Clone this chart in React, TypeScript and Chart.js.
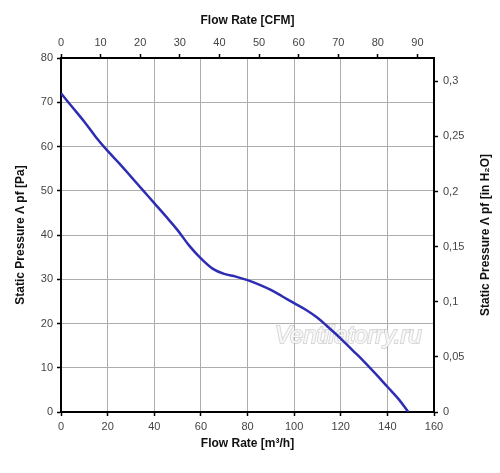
import React, { useEffect, useRef } from 'react';
import { Chart, registerables, Plugin } from 'chart.js';

Chart.register(...registerables);

// Flow rate in m3/h and static pressure in Pa
const flowRate = [0, 5, 10, 15, 20, 25, 30, 35, 40, 45, 50, 55, 60, 65, 70, 75, 80, 85, 90, 95, 100, 105, 110, 115, 120, 125, 130, 135, 140, 145, 149];
const pressure = [72, 68.8, 65.6, 62.1, 59, 56.2, 53.2, 50.2, 47.2, 44.2, 41.1, 37.6, 34.7, 32.4, 31.2, 30.6, 29.8, 28.8, 27.6, 26.1, 24.6, 23.1, 21.3, 19, 16.6, 14, 11.4, 8.6, 5.7, 2.8, 0];

const M3H_PER_CFM = 1.699;
const INH2O_PER_PA = 0.0040146;
const FLOW_MAX = 160;
const PRESSURE_MAX = 80;

const tickFont = { family: '"Liberation Sans", Arial, sans-serif', size: 11 };
const titleFont = { family: '"Liberation Sans", Arial, sans-serif', size: 12, weight: 'bold' as const };

const commaNumber = (v: number) => String(+Number(v).toFixed(2)).replace('.', ',');

// right axis title reads bottom-to-top, and the watermark
const extrasPlugin: Plugin = {
  id: 'extras',
  beforeDatasetsDraw(chart) {
    const ctx = chart.ctx;
    ctx.save();
    ctx.font = 'italic 24px "Liberation Sans", Arial, sans-serif';
    ctx.textAlign = 'left';
    ctx.textBaseline = 'alphabetic';
    ctx.lineWidth = 2;
    ctx.strokeStyle = 'rgba(190,190,190,0.6)';
    ctx.strokeText('Ventilatorry.ru', 275, 343);
    ctx.fillStyle = 'rgba(250,250,250,0.95)';
    ctx.fillText('Ventilatorry.ru', 275, 343);
    ctx.restore();
  },
  afterDraw(chart) {
    const ctx = chart.ctx;
    const { top, bottom } = chart.chartArea;
    ctx.save();
    ctx.translate(486, (top + bottom) / 2);
    ctx.rotate(-Math.PI / 2);
    ctx.font = 'bold 12px "Liberation Sans", Arial, sans-serif';
    ctx.fillStyle = '#111';
    ctx.textAlign = 'center';
    ctx.textBaseline = 'middle';
    ctx.fillText('Static Pressure Λ pf [in H₂O]', 0, 0);
    ctx.restore();
  },
};

const App: React.FC = () => {
  const canvasRef = useRef<HTMLCanvasElement>(null);
  const chartRef = useRef<Chart | null>(null);

  useEffect(() => {
    if (!canvasRef.current) return;
    const ctx = canvasRef.current.getContext('2d');
    if (!ctx) return;

    chartRef.current = new Chart(ctx, {
      type: 'line',
      data: {
        datasets: [
          {
            label: 'Static pressure',
            data: flowRate.map((q, i) => ({ x: q, y: pressure[i] })),
            borderColor: '#2d2db4',
            borderWidth: 2.5,
            pointRadius: 0,
            tension: 0.35,
            fill: false,
          },
        ],
      },
      options: {
        responsive: true,
        maintainAspectRatio: false,
        animation: false,
        layout: { padding: 0 },
        plugins: {
          legend: { display: false },
          tooltip: { enabled: false },
        },
        scales: {
          x: {
            type: 'linear',
            position: 'bottom',
            min: 0,
            max: FLOW_MAX,
            afterFit: (scale) => { scale.height = 61; },
            ticks: { stepSize: 20, font: tickFont, color: '#444', padding: 4, maxRotation: 0 },
            grid: { color: '#adadad', lineWidth: 1, tickLength: 4, tickColor: '#000', tickWidth: 1.5 },
            border: { color: '#000', width: 2 },
            title: { display: true, text: 'Flow Rate [m³/h]', font: titleFont, color: '#111', padding: { top: 0, bottom: 22 } },
          },
          x2: {
            type: 'linear',
            position: 'top',
            min: 0,
            max: FLOW_MAX / M3H_PER_CFM,
            afterFit: (scale) => { scale.height = 58; },
            ticks: { stepSize: 10, includeBounds: false, font: tickFont, color: '#444', padding: 4, maxRotation: 0 },
            grid: { drawOnChartArea: false, tickLength: 4, tickColor: '#000', tickWidth: 1.5 },
            border: { color: '#000', width: 2 },
            title: { display: true, text: 'Flow Rate [CFM]', font: titleFont, color: '#111', padding: { top: 13, bottom: 0 } },
          },
          y: {
            type: 'linear',
            position: 'left',
            min: 0,
            max: PRESSURE_MAX,
            afterFit: (scale) => { scale.width = 61; },
            ticks: { stepSize: 10, font: tickFont, color: '#444', padding: 4 },
            grid: { color: '#adadad', lineWidth: 1, tickLength: 4, tickColor: '#000', tickWidth: 1.5 },
            border: { color: '#000', width: 2 },
            title: { display: true, text: 'Static Pressure Λ pf [Pa]', font: titleFont, color: '#111', padding: { top: 13, bottom: 0 } },
          },
          y2: {
            type: 'linear',
            position: 'right',
            min: 0,
            max: PRESSURE_MAX * INH2O_PER_PA,
            afterFit: (scale) => { scale.width = 66; },
            ticks: { stepSize: 0.05, includeBounds: false, font: tickFont, color: '#444', padding: 5, callback: (v) => commaNumber(Number(v)) },
            grid: { drawOnChartArea: false, tickLength: 4, tickColor: '#000', tickWidth: 1.5 },
            border: { color: '#000', width: 2 },
          },
        },
      },
      plugins: [extrasPlugin],
    });

    return () => {
      if (chartRef.current) {
        chartRef.current.destroy();
        chartRef.current = null;
      }
    };
  }, []);

  return (
    <div style={{ position: 'absolute', left: 0, top: 0, width: 500, height: 473, background: '#fff' }}>
      <canvas ref={canvasRef}></canvas>
    </div>
  );
};

export default App;
